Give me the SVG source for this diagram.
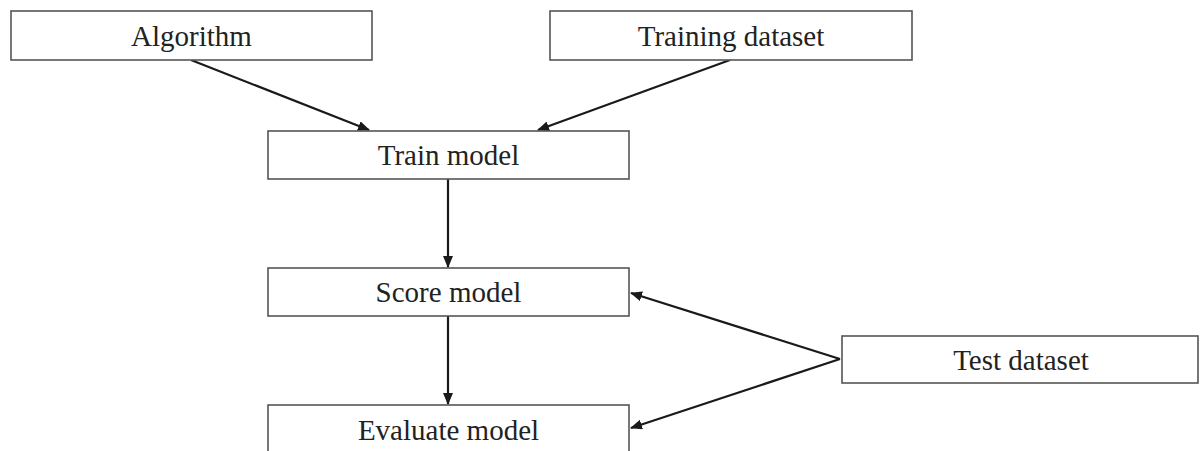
<svg xmlns="http://www.w3.org/2000/svg" width="1200" height="451" viewBox="0 0 1200 451">
<style>
.box{fill:#fff;stroke:#555;stroke-width:1.6}
.lbl{font-family:"Liberation Serif","Times New Roman",serif;font-size:29px;fill:#222;text-anchor:middle}
.edge{stroke:#1a1a1a;stroke-width:2.2;fill:none}
</style>
<defs>
<marker id="ah" markerUnits="userSpaceOnUse" markerWidth="12" markerHeight="10" refX="11" refY="5" orient="auto">
<path d="M0,0 L12,5 L0,10 z" fill="#1a1a1a"/>
</marker>
</defs>
<rect width="1200" height="451" fill="#fff"/>
<g id="connectors">
<line class="edge" x1="191" y1="60" x2="369" y2="130" marker-end="url(#ah)"/>
<line class="edge" x1="730" y1="60" x2="538" y2="130" marker-end="url(#ah)"/>
<line class="edge" x1="448" y1="179" x2="448" y2="267" marker-end="url(#ah)"/>
<line class="edge" x1="448" y1="316" x2="448" y2="404" marker-end="url(#ah)"/>
<line class="edge" x1="840" y1="359" x2="631" y2="293" marker-end="url(#ah)"/>
<line class="edge" x1="840" y1="359" x2="631" y2="428" marker-end="url(#ah)"/>
</g>
<g id="algorithm"><rect class="box" x="11" y="11" width="361" height="49"/><text class="lbl" x="191.5" y="46">Algorithm</text></g>
<g id="training-dataset"><rect class="box" x="550" y="11" width="362" height="49"/><text class="lbl" x="731" y="46">Training dataset</text></g>
<g id="train-model"><rect class="box" x="268" y="131" width="361" height="48"/><text class="lbl" x="448.5" y="165">Train model</text></g>
<g id="score-model"><rect class="box" x="268" y="268" width="361" height="48"/><text class="lbl" x="448.5" y="302">Score model</text></g>
<g id="evaluate-model"><rect class="box" x="268" y="405" width="361" height="50"/><text class="lbl" x="448.5" y="440">Evaluate model</text></g>
<g id="test-dataset"><rect class="box" x="842" y="336" width="356" height="47"/><text class="lbl" x="1021" y="370">Test dataset</text></g>
</svg>
